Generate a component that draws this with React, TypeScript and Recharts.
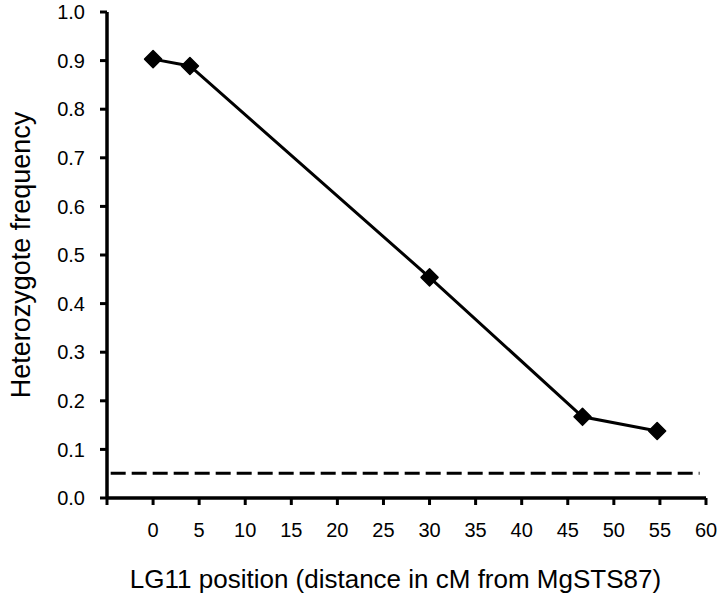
import React from 'react';
import {
  LineChart,
  Line,
  XAxis,
  YAxis,
  ReferenceLine
} from 'recharts';

// LG11 positions (cM from MgSTS87) and heterozygote frequencies
const positions = [0, 4, 30, 46.6, 54.7];
const frequencies = [0.903, 0.889, 0.454, 0.167, 0.138];
const threshold = 0.051;

const xTicks = [-5, 0, 5, 10, 15, 20, 25, 30, 35, 40, 45, 50, 55, 60];
const yTicks = [0, 0.1, 0.2, 0.3, 0.4, 0.5, 0.6, 0.7, 0.8, 0.9, 1.0];

const FONT = '"Liberation Sans", Arial, Helvetica, sans-serif';

const data = positions.map((x, i) => ({ x, y: frequencies[i] }));

// diamond marker drawn at the point recharts computed
const Diamond = (props: any) => {
  const { cx, cy, index } = props;
  if (cx == null || cy == null) return null;
  const r = 8.5;
  return (
    <path
      key={`d-${index}`}
      d={`M${cx},${cy - r} L${cx + r},${cy} L${cx},${cy + r} L${cx - r},${cy} Z`}
      fill="#000"
      stroke="#000"
      strokeWidth={1.5}
      strokeLinejoin="round"
    />
  );
};

const App: React.FC = () => {
  return (
    <div style={{ position: 'absolute', left: 0, top: 0, background: '#fff', fontFamily: FONT }}>
      <LineChart
        width={720}
        height={596}
        data={data}
        margin={{ top: 12, right: 14, bottom: 0, left: 0 }}
      >
        <XAxis
          dataKey="x"
          type="number"
          domain={[-5, 60]}
          ticks={xTicks}
          tickFormatter={(v: number) => (v < 0 ? '' : String(v))}
          height={98}
          axisLine={{ stroke: '#000', strokeWidth: 3.5 }}
          tickLine={{ stroke: '#000', strokeWidth: 3 }}
          tickSize={7}
          tickMargin={18}
          tick={{ fill: '#000', fontSize: 20, fontFamily: FONT }}
          interval={0}
          label={{
            value: 'LG11 position (distance in cM from MgSTS87)',
            position: 'insideBottom',
            offset: 8,
            dx: -11,
            style: { fill: '#000', fontSize: 26, fontFamily: FONT }
          }}
        />
        <YAxis
          type="number"
          domain={[0, 1]}
          ticks={yTicks}
          tickFormatter={(v: number) => v.toFixed(1)}
          width={107}
          axisLine={{ stroke: '#000', strokeWidth: 3.5 }}
          tickLine={{ stroke: '#000', strokeWidth: 3 }}
          tickSize={7}
          tickMargin={15}
          tick={{ fill: '#000', fontSize: 20, fontFamily: FONT }}
          interval={0}
          label={{
            value: 'Heterozygote frequency',
            angle: -90,
            position: 'insideLeft',
            offset: 20,
            style: { fill: '#000', fontSize: 27, fontFamily: FONT, textAnchor: 'middle' }
          }}
        />
        <ReferenceLine
          segment={[{ x: -4.6, y: threshold }, { x: 59.3, y: threshold }]}
          stroke="#000"
          strokeWidth={3}
          strokeDasharray="15 6"
          ifOverflow="extendDomain"
        />
        <Line
          type="linear"
          dataKey="y"
          stroke="#000"
          strokeWidth={3}
          dot={<Diamond />}
          activeDot={false}
          isAnimationActive={false}
        />
      </LineChart>
    </div>
  );
};

export default App;
